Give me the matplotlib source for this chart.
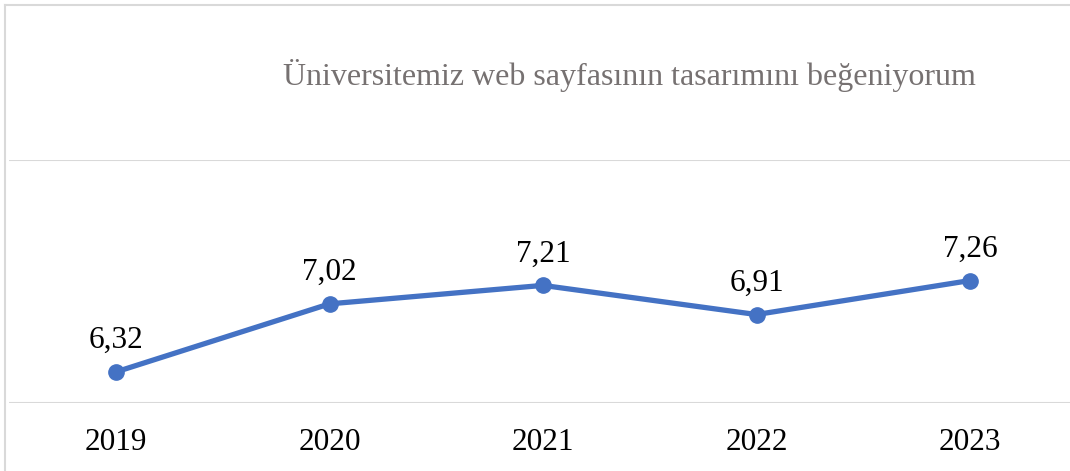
import matplotlib.pyplot as plt
from matplotlib.lines import Line2D

years = ["2019", "2020", "2021", "2022", "2023"]
scores = [6.32, 7.02, 7.21, 6.91, 7.26]
labels = ["6,32", "7,02", "7,21", "6,91", "7,26"]
title = "Üniversitemiz web sayfasının tasarımını beğeniyorum"

plt.rcParams['font.family'] = ['Liberation Serif', 'DejaVu Serif']

W, H = 1070, 471
fig = plt.figure(figsize=(W / 100, H / 100), dpi=100)

# chart border (cropped at right and bottom)
fig.add_artist(Line2D([5 / W, 5 / W], [0, 1 - 5 / H], color="#d9d9d9", lw=1.5))
fig.add_artist(Line2D([5 / W, 1], [1 - 5 / H, 1 - 5 / H], color="#d9d9d9", lw=1.5))

ax = fig.add_axes([9.25 / W, (H - 403) / H, 1067.5 / W, 243 / H])
ax.set_xlim(-0.5, 4.5)
ax.set_ylim(6, 8.5)

x = list(range(len(years)))
ax.plot(x, scores, color="#4472C4", lw=3.8, marker="o", ms=11,
        solid_capstyle="round", zorder=3, clip_on=False)

for xi, yi, t in zip(x, scores, labels):
    ax.annotate(t, (xi, yi), xytext=(0, 12), textcoords="offset points",
                ha="center", va="bottom", fontsize=22.5, color="black")

ax.set_yticks([6, 8.5])
ax.set_yticklabels([])
ax.yaxis.grid(True, color="#d9d9d9", lw=1.5)
ax.tick_params(axis="y", length=0)
ax.set_xticks(x)
ax.set_xticklabels(years, fontsize=22.5)
ax.tick_params(axis="x", length=0, pad=18)
for s in ax.spines.values():
    s.set_visible(False)
ax.set_axisbelow(True)

fig.text(629.5 / W, 1 - 75 / H, title, ha="center", va="center",
         fontsize=23, color="#767171")

fig.savefig("out.png", dpi=100)
